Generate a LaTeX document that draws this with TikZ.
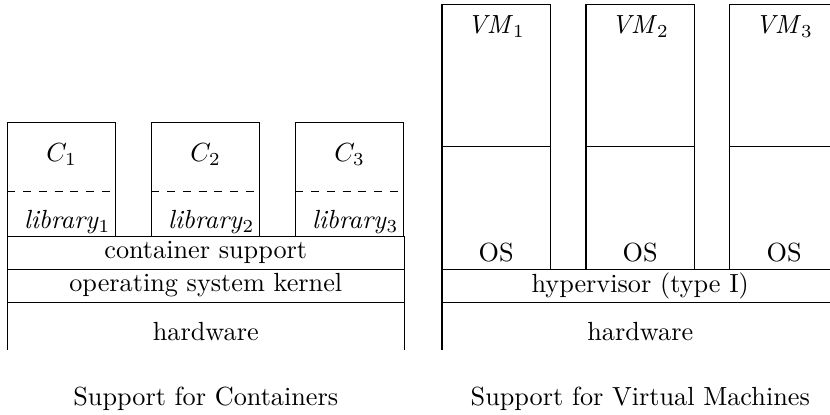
\documentclass[tikz,border=0pt]{standalone}
\usetikzlibrary{positioning,calc}
\begin{document}
\begin{tikzpicture}[node distance=0pt and 4.76mm,
 layer/.style={draw,minimum width=53.16mm,minimum height=4.42mm,inner sep=0pt,outer sep=0pt},
 hwbase/.style={minimum width=53.16mm,minimum height=6.43mm,inner sep=0pt,outer sep=0pt},
 cbox/.style={draw,minimum width=14.54mm,minimum height=15.29mm,inner sep=0pt,outer sep=0pt},
 osbox/.style={draw,minimum width=14.54mm,minimum height=16.49mm,inner sep=0pt,outer sep=0pt},
 vmbox/.style={draw,minimum width=14.54mm,minimum height=18.96mm,inner sep=0pt,outer sep=0pt}]
\useasboundingbox (-0.1005,-0.858) rectangle (11.025,4.692);
% containers
\node[hwbase,anchor=south west] (hwL) at (0,0) {};
\node[layer,above=of hwL] (kernel) {operating system kernel};
\node[layer,above=of kernel] (csup) {container support};
\node[cbox,anchor=south west] (c1) at (csup.north west) {};
\node[cbox,right=of c1] (c2) {}; \node[cbox,right=of c2] (c3) {};
\foreach \i in {1,2,3}{
 \node[below=4.6pt of c\i.north] (cl\i) {$C_\i$};
 \node[anchor=south east,inner xsep=1.9pt,inner ysep=0.7pt] (lib\i) at (c\i.south east) {\textit{library}$_\i$};
 \draw[dashed] ($(c\i.south west)+(0,5.97mm)$) -- ($(c\i.south east)+(0,5.97mm)$);
}
\draw (hwL.south west) -- (hwL.north west) (hwL.south east) -- (hwL.north east);
\node[anchor=south,inner sep=3.4pt] (hwLt) at (hwL.south) {hardware};
\node[below=3.75mm of hwL] (capL) {Support for Containers};
% virtual machines
\node[hwbase,anchor=south west] (hwR) at (5.824,0) {};
\node[layer,above=of hwR] (hyp) {hypervisor (type I)};
\node[osbox,anchor=south west] (os1) at (hyp.north west) {};
\node[osbox,right=of os1] (os2) {}; \node[osbox,right=of os2] (os3) {};
\foreach \i in {1,2,3}{
 \node[vmbox,above=of os\i] (vm\i) {};
 \node[below=0.7pt of vm\i.north] (vml\i) {\textit{VM}$_\i$};
 \node[anchor=south,inner sep=2.56pt] (osl\i) at (os\i.south) {OS};
}
\draw (hwR.south west) -- (hwR.north west) (hwR.south east) -- (hwR.north east);
\node[anchor=south,inner sep=3.4pt] (hwRt) at (hwR.south) {hardware};
\node[below=3.75mm of hwR] (capR) {Support for Virtual Machines};
\end{tikzpicture}
\end{document}
